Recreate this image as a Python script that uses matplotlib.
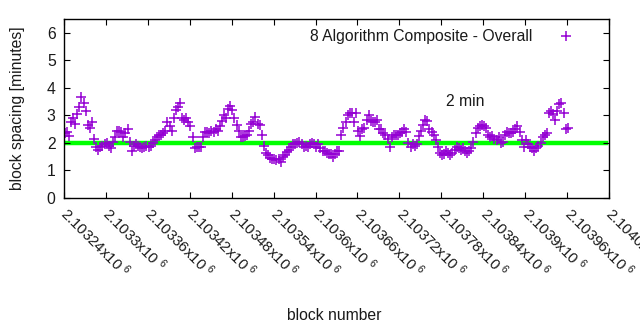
import numpy as np
import matplotlib
matplotlib.use("Agg")
import matplotlib.pyplot as plt

plt.rcParams['font.family'] = ['Liberation Sans', 'DejaVu Sans']
plt.rcParams['mathtext.fontset'] = 'custom'
plt.rcParams['mathtext.rm'] = 'Liberation Sans'
plt.rcParams['mathtext.it'] = 'Liberation Sans'

series_label = "8 Algorithm Composite - Overall"
first_block = 2103241
block_step = 3
spacing = [
    2.35, 2.4, 2.25, 2.75, 2.9, 2.7, 3.05, 3.3, 3.65, 3.45,
    3.15, 2.65, 2.55, 2.75, 2.15, 1.85, 1.75, 1.85, 1.9, 1.95,
    2.0, 1.9, 1.8, 2.05, 2.2, 2.45, 2.45, 2.4, 2.2, 2.35,
    2.5, 2.05, 1.7, 1.9, 1.95, 1.9, 1.85, 1.8, 1.85, 1.9,
    1.85, 1.9, 2.0, 2.1, 2.2, 2.3, 2.3, 2.35, 2.45, 2.75,
    2.6, 2.45, 2.9, 3.2, 3.3, 3.45, 2.9, 2.85, 2.9, 2.75,
    2.6, 2.2, 1.8, 1.85, 1.85, 1.85, 2.2, 2.4, 2.4, 2.35,
    2.45, 2.4, 2.5, 2.45, 2.6, 2.8, 3.0, 2.9, 3.25, 3.35,
    3.2, 2.9, 2.65, 2.45, 2.2, 2.2, 2.25, 2.3, 2.45, 2.7,
    2.75, 2.95, 2.7, 2.65, 2.3, 1.9, 1.65, 1.55, 1.45, 1.42,
    1.42, 1.38, 1.4, 1.32, 1.5, 1.55, 1.68, 1.75, 1.85, 1.95,
    1.95, 2.0, 2.05, 1.95, 1.85, 1.9, 1.85, 1.95, 2.0, 1.95,
    1.85, 1.95, 1.8, 1.7, 1.7, 1.65, 1.6, 1.6, 1.5, 1.6,
    1.7, 1.7, 2.3, 2.55, 2.75, 3.0, 3.1, 3.1, 2.75, 3.1,
    2.45, 2.25, 2.5, 2.55, 2.85, 3.0, 2.8, 2.75, 2.75, 2.85,
    2.5, 2.5, 2.35, 2.3, 2.15, 1.85, 2.2, 2.3, 2.3, 2.3,
    2.35, 2.4, 2.5, 2.4, 2.0, 1.85, 1.95, 1.9, 1.95, 2.25,
    2.45, 2.65, 2.85, 2.8, 2.5, 2.4, 2.3, 2.1, 1.85, 1.65,
    1.55, 1.6, 1.7, 1.65, 1.55, 1.65, 1.75, 1.85, 1.8, 1.75,
    1.8, 1.72, 1.65, 1.7, 1.8, 2.05, 2.35, 2.55, 2.6, 2.65,
    2.6, 2.55, 2.3, 2.2, 2.25, 2.15, 2.1, 2.2, 2.0, 2.05,
    2.3, 2.4, 2.35, 2.35, 2.4, 2.5, 2.6, 2.4, 2.1, 1.85,
    2.1, 1.95, 1.85, 1.8, 1.7, 1.8, 1.9, 2.0, 2.2, 2.3,
    2.35, 3.1, 3.15, 3.05, 2.85, 3.15, 3.4, 3.45, 3.1, 2.5, 2.55,
]
blocks = first_block + block_step * np.arange(len(spacing))

target_minutes = 2.0
annotation_text = "2 min"
annotation_block = 2103787
annotation_value = 3.5

x_ticks = [2103240, 2103300, 2103360, 2103420, 2103480, 2103540, 2103600,
           2103660, 2103720, 2103780, 2103840, 2103900, 2103960, 2104020]
x_tick_labels = ["2.10324", "2.1033", "2.10336", "2.10342", "2.10348", "2.10354",
                 "2.1036", "2.10366", "2.10372", "2.10378", "2.10384", "2.1039",
                 "2.10396", "2.10402"]
y_ticks = [0, 1, 2, 3, 4, 5, 6]

FS = 11.3
TXT = '#1a1a1a'

fig = plt.figure(figsize=(6.4, 3.3), dpi=100)
ax = fig.add_axes([64/640, 1 - 198/330, (609 - 64)/640, (198 - 19)/330])

ax.axhline(target_minutes, xmin=0.005, xmax=0.995, color='#00ff00', lw=3.2, zorder=1)
ax.plot(blocks, spacing, linestyle='none', marker='+', color='#9400d3',
        markersize=7.5, mew=1.1, label=series_label, zorder=2)

ax.set_xlim(x_ticks[0], x_ticks[-1])
ax.set_ylim(0, 6.5)
ax.set_yticks(y_ticks)
ax.set_yticklabels([str(v) for v in y_ticks], fontsize=FS)
ax.set_xticks(x_ticks)
ax.set_xticklabels([])
for xt, lab in zip(x_ticks, x_tick_labels):
    ax.text(xt, -0.45, lab + r"x10 $^{6}$", rotation=-45, rotation_mode='anchor',
            ha='left', va='center', fontsize=10.8, transform=ax.transData,
            clip_on=False, color=TXT)

ax.tick_params(direction='in', top=True, right=True, length=4, width=0.8,
               colors='black', labelcolor=TXT, pad=6)
for s in ax.spines.values():
    s.set_linewidth(1.0)

ax.text(annotation_block, annotation_value, annotation_text, fontsize=FS,
        ha='left', va='center', color=TXT)

fig.text(18/640, 1 - 108/330, "block spacing [minutes]", rotation=90,
         ha='center', va='center', fontsize=FS, color=TXT)
fig.text(334/640, 1 - 316/330, "block number", ha='center', va='center',
         fontsize=FS, color=TXT)

leg = ax.legend(loc='upper right', markerfirst=False, frameon=False,
                fontsize=FS, handlelength=2.6, handletextpad=0.9,
                bbox_to_anchor=(0.978, 1.0), borderaxespad=0.25)
for t in leg.get_texts():
    t.set_color(TXT)

fig.savefig("out.png", dpi=100)
